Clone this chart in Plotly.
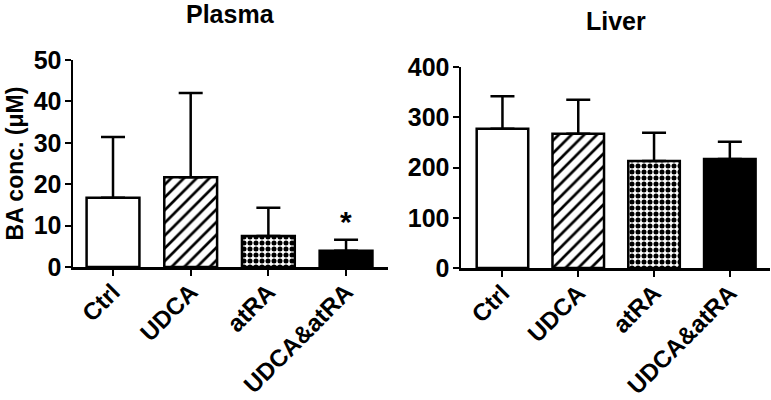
import plotly.graph_objects as go

categories = ["Ctrl", "UDCA", "atRA", "UDCA&atRA"]
plasma_mean = [16.7, 21.7, 7.5, 3.9]
plasma_upper = [31.4, 42.0, 14.3, 6.6]
liver_mean = [277, 267, 213, 217]
liver_upper = [342, 335, 269, 251]
plasma_ticks = [0, 10, 20, 30, 40, 50]
liver_ticks = [0, 100, 200, 300, 400]
significance = ["", "", "", "*"]

FONT = "Arial, 'Liberation Sans', sans-serif"
bar_colors = ["white", "white", "white", "black"]
shapes = ["", "/", ".", ""]
pattern_sizes = [8, 9, 6, 8]
pattern_solid = [0.3, 0.3, 0.55, 0.3]


def add_bars(fig, mean, upper, xa, ya):
    for i, cat in enumerate(categories):
        marker = dict(color=bar_colors[i], line=dict(color="black", width=2.5))
        if shapes[i]:
            marker["pattern"] = dict(shape=shapes[i], fgcolor="black", bgcolor="white",
                                     size=pattern_sizes[i], solidity=pattern_solid[i],
                                     fillmode="replace")
        fig.add_trace(go.Bar(
            x=[cat], y=[mean[i]], xaxis=xa, yaxis=ya, width=0.68,
            marker=marker,
            error_y=dict(type="data", symmetric=False,
                         array=[upper[i] - mean[i]], arrayminus=[0],
                         color="black", thickness=2.5, width=12),
            showlegend=False, hoverinfo="skip",
        ))


fig = go.Figure()
add_bars(fig, plasma_mean, plasma_upper, "x", "y")
add_bars(fig, liver_mean, liver_upper, "x2", "y2")

bold = dict(family=FONT, color="black", weight="bold")
xcommon = dict(type="category", categoryorder="array", categoryarray=categories,
               showline=True, linecolor="black", linewidth=2.5,
               ticks="outside", ticklen=6, tickwidth=2, tickcolor="black",
               tickangle=-45, tickfont=dict(size=24, **bold), automargin=False,
               ticklabelstandoff=-7,
               showgrid=False, zeroline=False, fixedrange=True)
ycommon = dict(showline=True, linecolor="black", linewidth=2.5,
               ticks="outside", ticklen=6, tickwidth=2, tickcolor="black",
               tickfont=dict(size=25, **bold), automargin=False,
               ticklabelstandoff=-2,
               showgrid=False, zeroline=False, fixedrange=True)

fig.update_layout(
    width=771, height=400,
    margin=dict(l=0, r=0, t=0, b=0, autoexpand=False),
    paper_bgcolor="white", plot_bgcolor="white",
    barmode="overlay",
    xaxis=dict(domain=[73 / 771, 388 / 771], range=[-0.515, 3.54], anchor="y", **xcommon),
    yaxis=dict(domain=[133 / 400, 340 / 400], range=[0, 50], tickvals=plasma_ticks,
               anchor="x",
               title=dict(text="BA conc. (μM)", standoff=4, font=dict(size=23, **bold)),
               **ycommon),
    xaxis2=dict(domain=[461 / 771, 770 / 771], range=[-0.547, 3.53], anchor="y2", **xcommon),
    yaxis2=dict(domain=[132 / 400, 333 / 400], range=[0, 400], tickvals=liver_ticks,
                anchor="x2", **ycommon),
)

for cat, u, s in zip(categories, plasma_upper, significance):
    if s:
        fig.add_annotation(x=cat, y=u, xref="x", yref="y", text=s, showarrow=False,
                           yanchor="bottom", yshift=0,
                           font=dict(size=30, **bold))

fig.add_annotation(x=(73 + 388) / 2 / 771, y=1 - 14 / 400, xref="paper", yref="paper",
                   text="Plasma", showarrow=False, xanchor="center", yanchor="middle",
                   font=dict(size=25, **bold))
fig.add_annotation(x=(461 + 770) / 2 / 771, y=1 - 21 / 400, xref="paper", yref="paper",
                   text="Liver", showarrow=False, xanchor="center", yanchor="middle",
                   font=dict(size=25, **bold))

fig.write_html("out.html", config={"displayModeBar": False, "staticPlot": True},
               post_script="document.body.style.margin='0';")
